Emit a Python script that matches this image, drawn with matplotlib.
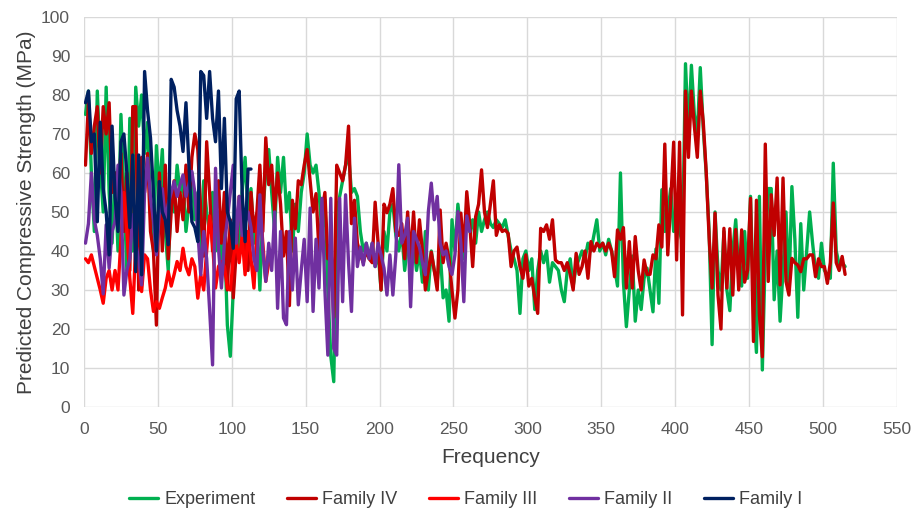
import numpy as np
import matplotlib
matplotlib.use("Agg")
import matplotlib.pyplot as plt

plt.rcParams["font.family"] = ["Liberation Sans", "DejaVu Sans"]

# predicted / measured strength, one value every 2 frequency steps (starting at 1)
experiment = [
    75, 81, 60, 45, 81, 62, 50, 82, 55, 42,
    60, 40, 75, 55, 35, 74, 40, 82, 72, 80,
    65, 73, 50, 40, 67, 55, 66, 45, 35, 55,
    50, 62, 55, 58, 45, 52, 60, 48, 55, 40,
    58, 50, 45, 55, 40, 50, 35, 45, 21, 13,
    30, 45, 40, 55, 64, 50, 56, 42, 48, 30,
    50, 60, 66, 55, 45, 64, 55, 64, 50, 55,
    40, 52, 45, 55, 60, 70, 62, 60, 62, 55,
    45, 53, 30, 13, 6.5, 50, 54, 58, 62, 65,
    55, 56, 54, 45, 40, 42, 38, 42, 36, 40,
    30, 45, 40, 50, 52, 44, 40, 45, 35, 42,
    38, 42, 35, 40, 32, 45, 30, 40, 35, 32,
    40, 28, 30, 22, 48, 40, 52, 45, 38, 50,
    45, 48, 42, 50, 45, 48, 50, 47, 46, 48,
    47, 46, 48, 44, 40, 38, 35, 24, 38, 40,
    35, 38, 25, 35, 40, 37, 40, 32, 37, 36,
    35, 30, 27, 35, 38, 31, 36, 38, 40, 38,
    42, 40, 44, 48, 40, 42, 39, 43, 40, 36,
    31, 60, 32, 20.6, 30, 38.7, 22, 30, 25, 33,
    35.6, 30, 24.4, 40.5, 26.6, 55.7, 45, 50, 56, 45,
    50, 45, 42, 88, 70, 87.6, 75, 70, 87, 71.5,
    60, 45, 16, 50, 35, 30, 45, 30, 24.7, 40,
    48, 35, 31, 45, 33, 54, 27, 14, 54, 9.5,
    40, 56, 56, 27.5, 40, 22, 35, 50, 30, 56.5,
    43, 23, 47, 30, 40, 50, 42, 35, 33, 42,
    35, 34, 33, 62.5, 40, 36.5, 37, 36,
]

family_iv = [
    62, 78, 65, 72, 77, 60, 77, 70, 78, 55,
    60, 54, 65, 45, 60, 35, 77, 77, 30, 64,
    55, 65, 45, 40, 21, 60, 40, 62, 38, 50,
    58, 45, 55, 48, 62, 50, 64, 70, 66, 50,
    38.7, 68, 55, 40, 48, 58, 42, 55, 30, 48,
    28, 40, 54, 47, 40, 35, 55, 45, 50, 62,
    45, 69, 57, 62, 50, 60, 52, 38.7, 45, 26,
    53, 45.7, 58, 57, 62, 66, 58, 50, 54.7, 40,
    50, 55, 38, 42, 23, 62, 60, 58, 62, 72,
    47, 53, 42, 39, 37, 40, 38, 37, 52.5, 42,
    30, 52, 49.8, 52, 56, 45, 44, 47, 38, 50,
    38, 50, 37, 48, 40, 30, 35, 39.7, 35, 30,
    50.5, 37, 42, 38, 30, 22.8, 30, 49.7, 40, 55.2,
    47, 36, 48.8, 52, 60.8, 50, 46, 52, 58, 44,
    46.7, 45, 45.4, 44.5, 36, 40, 41, 36, 33, 39,
    31, 33, 28, 24, 45.8, 45, 46.7, 43, 48, 37.7,
    37, 37, 35, 37, 34, 30, 39.4, 34, 36, 40,
    33, 42.4, 40, 42, 41, 42, 40, 42, 40, 33.4,
    45.4, 43, 46, 30.5, 42.4, 30.5, 43.7, 35, 30, 37.7,
    34, 34, 39, 38, 46.7, 41, 67.4, 39, 52.7, 67.9,
    37.7, 67.9, 23.6, 81, 64, 81, 72, 64, 81, 73.2,
    60.4, 43.3, 30.5, 49.7, 28.7, 20, 45.8, 30.5, 45.7, 28.7,
    45.5, 30, 45.4, 32, 35, 53.5, 16.8, 53, 23.6, 12.9,
    67.4, 32.2, 54.4, 44, 58.7, 31.3, 58.7, 32.2, 28.7, 38.1,
    37, 36.4, 34.7, 38, 38, 39, 39, 33.4, 38, 36,
    36, 31.7, 37, 52.3, 37, 35, 38.6, 34,
]

family_iii = [
    38, 37, 39, 36, 33, 30, 26.6, 33, 35, 30,
    35, 30, 43, 55, 45, 33, 24, 41.6, 35, 29.6,
    39, 38, 30, 24.5, 27, 25.3, 28, 30.5, 34.7, 31,
    34, 37.3, 35, 40.7, 36, 33.9, 38, 36, 27.9, 34,
    30, 40, 49, 42, 30.5, 36, 37.3, 36, 30.5, 30,
    38, 42.4, 37, 44, 33.9, 45, 38, 30.5, 45, 52.7,
    42, 32.2, 37, 39.9,
]

family_ii = [
    42, 47, 60, 48, 44, 38, 29, 46.7, 35.6, 45,
    47.5, 62, 55, 28.7, 35, 38, 49.3, 42, 38, 31.3,
    55, 63.8, 53.5, 48, 39, 50, 56, 48, 52, 55,
    57.8, 54, 57, 59.5, 54, 57, 60.4, 55, 45, 33.9,
    45, 38, 25, 10.8, 61.2, 40.7, 30.5, 42, 48, 55,
    62, 42, 54, 44, 47, 50, 46, 38, 35, 54.4,
    40, 32.2, 42, 35, 50, 25.3, 45, 22.8, 21.1, 45,
    30, 43.3, 26.2, 35, 43, 27, 51, 24.5, 43, 30.5,
    53.5, 30, 13.3, 53.5, 15, 13.3, 53.5, 27, 54.4, 37,
    24.5, 48.4, 36, 41, 36.4, 42, 38, 42, 36, 42,
    39, 35.6, 28.7, 39, 28.7, 39, 62.1, 42, 44, 48.4,
    25.7, 45, 43, 41, 37, 33.9, 50.1, 57.4, 48, 54,
    42, 39, 40, 36, 34, 39, 50.1, 42, 27, 49,
    45,
]

family_i = [
    78, 81, 68, 70, 47.5, 73, 56, 50, 39, 72,
    54, 45, 68, 70, 60, 46, 64.6, 34.7, 64.6, 33.9,
    86, 76, 69, 55, 40, 57.8, 50, 48, 41.6, 84,
    82, 76, 72, 65.5, 78, 62, 47.5, 46, 42.4, 86,
    85, 74, 86, 74, 68, 81, 56, 74, 50, 47.5,
    40.7, 79, 81, 55, 42.4, 61, 61,
]

series_names = ["Experiment", "Family IV", "Family III", "Family II", "Family I"]
series_values = [experiment, family_iv, family_iii, family_ii, family_i]
colors = ["#00B050", "#C00000", "#FF0000", "#7030A0", "#002060"]

fig = plt.figure(figsize=(9.17, 5.13), dpi=100)
ax = fig.add_axes([0.0916, 0.2066, 0.8864, 0.7604])

for name, vals, c in zip(series_names, series_values, colors):
    freq = np.arange(len(vals)) * 2 + 1
    ax.plot(freq, vals, color=c, lw=2.4, label=name,
            solid_joinstyle="round", solid_capstyle="round")

ax.set_xlim(0, 550)
ax.set_ylim(0, 100)
ax.set_xticks(np.arange(0, 551, 50))
ax.set_yticks(np.arange(0, 101, 10))
ax.grid(True, color="#D9D9D9", lw=1)
ax.set_axisbelow(True)
for s in ax.spines.values():
    s.set_visible(False)
ax.tick_params(length=0, labelsize=12.5, colors="#595959")
ax.tick_params(axis="x", pad=11)
ax.tick_params(axis="y", pad=10)
ax.set_xlabel("Frequency", fontsize=15, color="#404040", labelpad=8)
ax.set_ylabel("Predicted Compressive Strength (MPa)", fontsize=15,
              color="#404040", labelpad=4)

fig.legend(loc="lower center", bbox_to_anchor=(0.508, -0.022), ncol=5,
           frameon=False, fontsize=13, handlelength=1.6, handletextpad=0.35,
           columnspacing=1.75, labelcolor="#404040")

fig.savefig("out.png", dpi=100)
